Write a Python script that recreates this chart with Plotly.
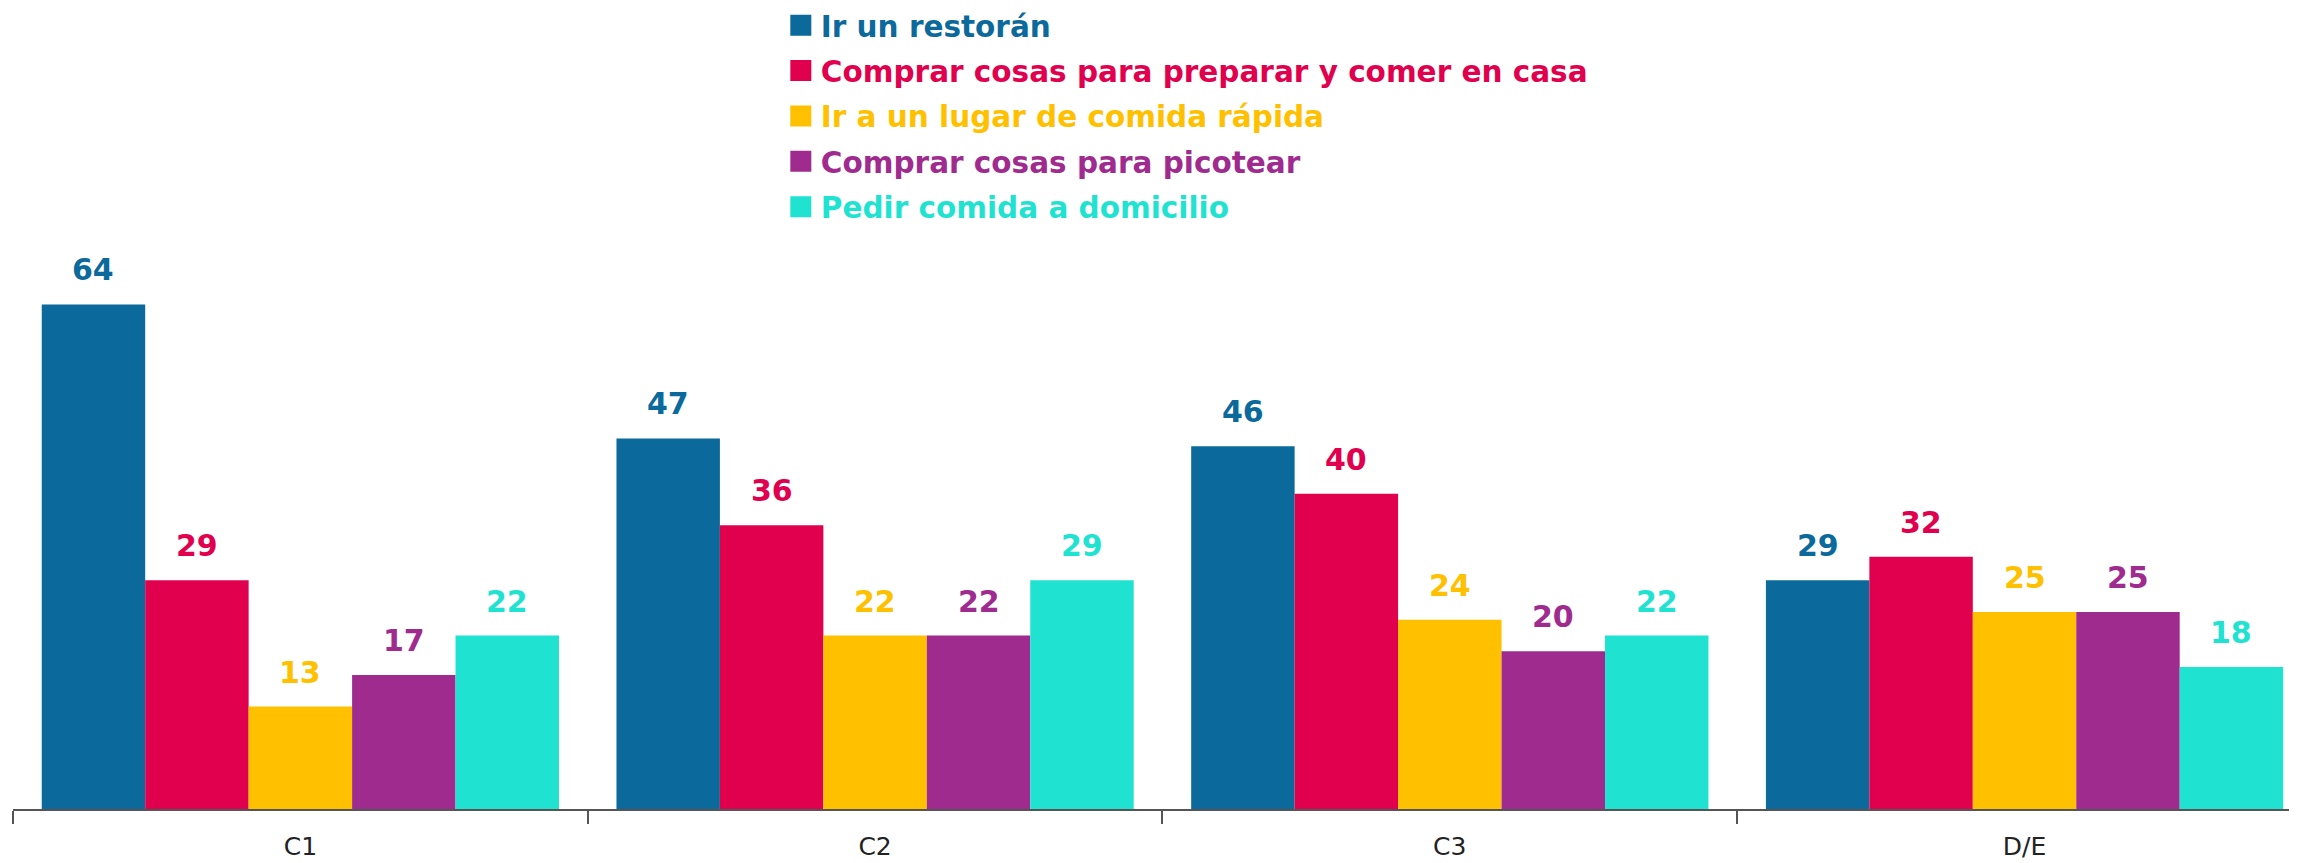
import plotly.graph_objects as go

# datos
categorias = ["C1", "C2", "C3", "D/E"]
series = [
    "Ir un restorán",
    "Comprar cosas para preparar y comer en casa",
    "Ir a un lugar de comida rápida",
    "Comprar cosas para picotear",
    "Pedir comida a domicilio",
]
restoran = [64, 47, 46, 29]
comprar_casa = [29, 36, 40, 32]
comida_rapida = [13, 22, 24, 25]
picotear = [17, 22, 20, 25]
domicilio = [22, 29, 22, 18]

valores = [restoran, comprar_casa, comida_rapida, picotear, domicilio]
colores = ["#0b6a9b", "#e0004d", "#ffc000", "#9f2b8f", "#1fe3d0"]

FONT = "'DejaVu Sans', 'Noto Sans', sans-serif"
BARGAP = 0.1

fig = go.Figure()

for i, (nombre, vals, col) in enumerate(zip(series, valores, colores)):
    fig.add_trace(go.Bar(
        x=categorias,
        y=vals,
        name=nombre,
        marker=dict(color=col, line=dict(width=0)),
        showlegend=False,
        hoverinfo="x+y+name",
    ))
    # entrada de leyenda con cuadrado grande y texto de color
    fig.add_trace(go.Scatter(
        x=[None], y=[None],
        mode="markers",
        name=f'<span style="color:{col}"><b>{nombre}</b></span>',
        marker=dict(symbol="square", size=16, color=col, line=dict(color=col, width=5)),
        legendgroup=f"g{i}",
        showlegend=True,
    ))

# etiquetas sobre las barras
n = len(series)
ancho = (1 - BARGAP) / n
for i, (vals, col) in enumerate(zip(valores, colores)):
    for j, v in enumerate(vals):
        fig.add_annotation(
            x=j + (i - (n - 1) / 2) * ancho,
            y=v,
            xref="x", yref="y",
            text=f"<b>{v}</b>",
            showarrow=False,
            yanchor="bottom",
            yshift=15,
            font=dict(family=FONT, size=30, color=col),
        )

fig.update_layout(
    barmode="group",
    bargap=BARGAP,
    bargroupgap=0,
    width=2297,
    height=863,
    margin=dict(l=5, r=0, t=242, b=62, autoexpand=False),
    paper_bgcolor="white",
    plot_bgcolor="white",
    font=dict(family=FONT, size=25, color="#222222"),
    legend=dict(
        x=0.335, xanchor="left",
        y=1.448, yanchor="top",
        traceorder="grouped",
        tracegroupgap=4,
        font=dict(family=FONT, size=29.5),
        bgcolor="rgba(0,0,0,0)",
    ),
    xaxis=dict(
        type="category",
        range=[-0.5, 3.488],
        showline=True,
        linecolor="#555555",
        linewidth=1.5,
        ticks="outside",
        tickson="boundaries",
        ticklen=13,
        tickwidth=1.5,
        tickcolor="#555555",
        ticklabelstandoff=14,
        showgrid=False,
        tickfont=dict(family=FONT, size=25, color="#222222"),
    ),
    yaxis=dict(
        range=[0, 70.9],
        visible=False,
        showgrid=False,
        zeroline=False,
    ),
)

fig.write_html("out.html")
